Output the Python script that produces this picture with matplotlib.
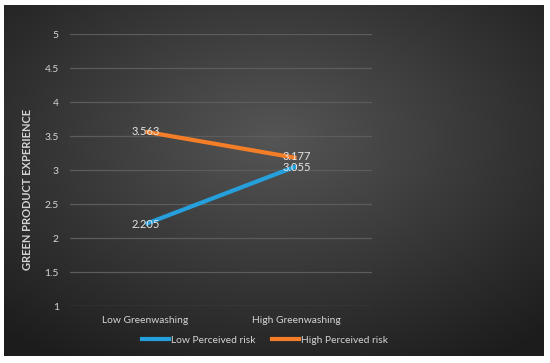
import numpy as np
import matplotlib
matplotlib.use("Agg")
import matplotlib.pyplot as plt
from matplotlib.lines import Line2D

categories = ["Low Greenwashing", "High Greenwashing"]
low_risk = [2.205, 3.055]
high_risk = [3.563, 3.177]
series_names = ["Low Perceived risk", "High Perceived risk"]
yticks = [1, 1.5, 2, 2.5, 3, 3.5, 4, 4.5, 5]
ytick_labels = ["1", "1.5", "2", "2.5", "3", "3.5", "4", "4.5", "5"]

W, H = 550, 363
fig = plt.figure(figsize=(W / 100, H / 100), dpi=100, facecolor="white")
plt.rcParams['font.family'] = ['Lato', 'DejaVu Sans']

# background panel with radial gradient
L, R, T, B = 3.5, 543.5, 5, 356.5
bg = fig.add_axes([L / W, 1 - B / H, (R - L) / W, (B - T) / H])
bg.axis("off")
nx, ny = 540, 352
xx, yy = np.meshgrid(np.linspace(0, 1, nx), np.linspace(0, 1, ny))
cx, cy = 0.5, 0.38
d = np.sqrt(((xx - cx) / 0.75) ** 2 + ((yy - cy) / 0.75) ** 2)
d = np.clip(d, 0, 1)
inner = np.array([0x55, 0x55, 0x55]) / 255
outer = np.array([0x1c, 0x1c, 0x1c]) / 255
img = inner[None, None, :] * (1 - d[..., None]) + outer[None, None, :] * d[..., None]
bg.imshow(img, aspect="auto", extent=[0, 1, 1, 0], interpolation="bilinear")
bg.set_xlim(0, 1)
bg.set_ylim(1, 0)

# plot axes: x 70..372, y from value 1 (306) to 5 (34)
px0, px1 = 70, 372
py_top, py_bot = 34, 306
ax = fig.add_axes([px0 / W, 1 - py_bot / H, (px1 - px0) / W, (py_bot - py_top) / H])
ax.patch.set_alpha(0)
for s in ax.spines.values():
    s.set_visible(False)
ax.set_ylim(1, 5)
ax.set_xlim(-0.5, 1.5)
ax.set_yticks(yticks)
ax.set_yticklabels(ytick_labels)
ax.set_xticks([0, 1])
ax.set_xticklabels(categories)
ax.grid(axis="y", color="#5c5c5c", linewidth=0.9)
ax.set_axisbelow(True)
txtc = "#d4d4d4"
ax.tick_params(axis="y", length=0, pad=8, colors=txtc, labelsize=7.4)
ax.tick_params(axis="x", length=0, pad=7, colors=txtc, labelsize=7.4)

blue = "#25a0dc"
orange = "#f47d28"
x = np.arange(len(categories))
ax.plot(x, low_risk, color=blue, linewidth=3, solid_capstyle="butt", zorder=3)
ax.plot(x, high_risk, color=orange, linewidth=3, solid_capstyle="butt", zorder=3)
low_off = [0, -1.2]
high_off = [0, 1.2]
for xi, v, o in zip(x, low_risk, low_off):
    ax.annotate(f"{v:.3f}", (xi, v), xytext=(0, o), textcoords="offset points",
                color="#e6e6e6", fontsize=8, ha="center", va="center", zorder=4)
for xi, v, o in zip(x, high_risk, high_off):
    ax.annotate(f"{v:.3f}", (xi, v), xytext=(0, o), textcoords="offset points",
                color="#e6e6e6", fontsize=8, ha="center", va="center", zorder=4)

ax.set_ylabel("GREEN PRODUCT EXPERIENCE", color=txtc, fontsize=8, fontweight="bold")
ax.yaxis.set_label_coords((33 - px0) / (px1 - px0), (py_bot - 189.5) / (py_bot - py_top))

handles = [Line2D([0], [0], color=blue, lw=3), Line2D([0], [0], color=orange, lw=3)]
fig.legend(handles, series_names, loc="center", bbox_to_anchor=(265 / W, 1 - 340 / H),
           ncol=2, frameon=False, fontsize=7.4, labelcolor=txtc, handlelength=2.6,
           handletextpad=0.2, columnspacing=1.6)

fig.savefig("out.png", dpi=100, facecolor="white")
